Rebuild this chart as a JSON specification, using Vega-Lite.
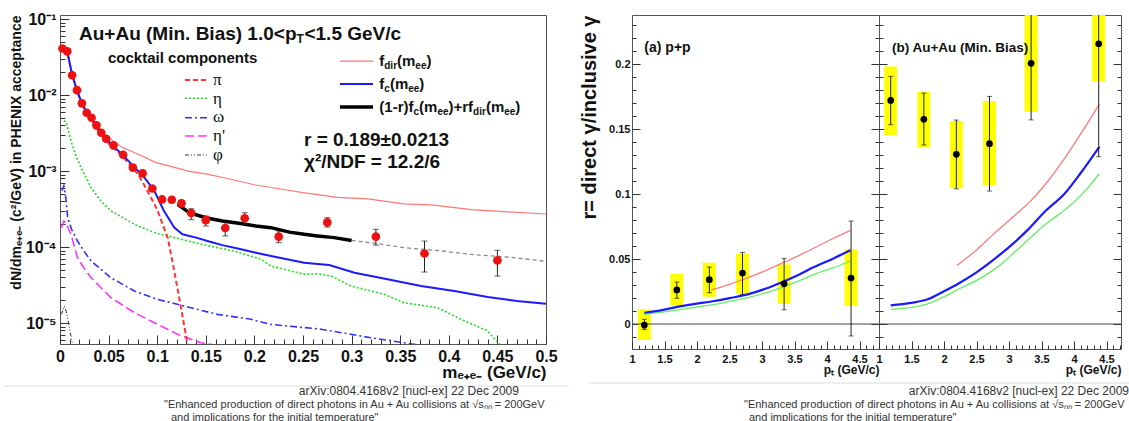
{
  "$schema": "https://vega.github.io/schema/vega-lite/v6.json",
  "background": "white",
  "padding": {"left": 3, "top": 10, "right": 0, "bottom": 0},
  "bounds": "flush",
  "spacing": 86,
  "config": {
    "font": "Liberation Sans",
    "view": {"stroke": "#555555", "strokeWidth": 1},
    "axis": {"grid": false, "domain": false, "labelColor": "#111111", "titleColor": "#111111", "tickColor": "#333333", "tickWidth": 1, "labelFlush": false, "labelOverlap": false},
    "text": {"align": "left", "baseline": "middle", "color": "#111111"}
  },
  "datasets": {
    "curves": [
      {"c": "eta", "m": 0.004, "v": 0.0046}, {"c": "eta", "m": 0.0065, "v": 0.0044}, {"c": "eta", "m": 0.0113, "v": 0.00248}, {"c": "eta", "m": 0.0165, "v": 0.00157}, {"c": "eta", "m": 0.0216, "v": 0.00111}, {"c": "eta", "m": 0.032, "v": 0.000603}, {"c": "eta", "m": 0.042, "v": 0.000403}, {"c": "eta", "m": 0.0525, "v": 0.000298}, {"c": "eta", "m": 0.0645, "v": 0.000245}, {"c": "eta", "m": 0.0765, "v": 0.000199}, {"c": "eta", "m": 0.097, "v": 0.000155}, {"c": "eta", "m": 0.1176, "v": 0.000133}, {"c": "eta", "m": 0.145, "v": 0.000109}, {"c": "eta", "m": 0.179, "v": 0.0000885}, {"c": "eta", "m": 0.207, "v": 0.000069}, {"c": "eta", "m": 0.217, "v": 0.0000562}, {"c": "eta", "m": 0.2513, "v": 0.0000438}, {"c": "eta", "m": 0.265, "v": 0.0000445}, {"c": "eta", "m": 0.279, "v": 0.0000415}, {"c": "eta", "m": 0.2994, "v": 0.0000307}, {"c": "eta", "m": 0.32, "v": 0.0000264}, {"c": "eta", "m": 0.3336, "v": 0.0000239}, {"c": "eta", "m": 0.354, "v": 0.0000185}, {"c": "eta", "m": 0.3886, "v": 0.0000159}, {"c": "eta", "m": 0.4125, "v": 0.0000112}, {"c": "eta", "m": 0.44, "v": 0.00000785}, {"c": "eta", "m": 0.449, "v": 0.0000058}, {"c": "eta", "m": 0.457, "v": 0.0000046},
      {"c": "omega", "m": 0.002, "v": 0.00055}, {"c": "omega", "m": 0.004, "v": 0.00064}, {"c": "omega", "m": 0.006, "v": 0.000445}, {"c": "omega", "m": 0.0079, "v": 0.000243}, {"c": "omega", "m": 0.012, "v": 0.00017}, {"c": "omega", "m": 0.018, "v": 0.00012}, {"c": "omega", "m": 0.025, "v": 0.000087}, {"c": "omega", "m": 0.032, "v": 0.0000655}, {"c": "omega", "m": 0.0525, "v": 0.0000394}, {"c": "omega", "m": 0.0765, "v": 0.0000264}, {"c": "omega", "m": 0.1005, "v": 0.0000205}, {"c": "omega", "m": 0.128, "v": 0.0000167}, {"c": "omega", "m": 0.162, "v": 0.000013}, {"c": "omega", "m": 0.1965, "v": 0.0000112}, {"c": "omega", "m": 0.217, "v": 0.0000096}, {"c": "omega", "m": 0.2685, "v": 0.0000083}, {"c": "omega", "m": 0.32, "v": 0.0000064}, {"c": "omega", "m": 0.354, "v": 0.0000055}, {"c": "omega", "m": 0.375, "v": 0.000005},
      {"c": "etap", "m": 0.0015, "v": 0.00018}, {"c": "etap", "m": 0.004, "v": 0.00022}, {"c": "etap", "m": 0.006, "v": 0.000209}, {"c": "etap", "m": 0.0113, "v": 0.000147}, {"c": "etap", "m": 0.018, "v": 0.0000723}, {"c": "etap", "m": 0.025, "v": 0.000052}, {"c": "etap", "m": 0.032, "v": 0.0000394}, {"c": "etap", "m": 0.0525, "v": 0.0000215}, {"c": "etap", "m": 0.0765, "v": 0.0000137}, {"c": "etap", "m": 0.1005, "v": 0.0000096}, {"c": "etap", "m": 0.121, "v": 0.0000071}, {"c": "etap", "m": 0.145, "v": 0.0000055}, {"c": "etap", "m": 0.165, "v": 0.000005},
      {"c": "phi", "m": 0.0015, "v": 0.000013}, {"c": "phi", "m": 0.0045, "v": 0.0000167}, {"c": "phi", "m": 0.0065, "v": 0.000014}, {"c": "phi", "m": 0.0079, "v": 0.0000117}, {"c": "phi", "m": 0.0105, "v": 0.0000075}, {"c": "phi", "m": 0.013, "v": 0.0000052},
      {"c": "pi", "m": 0.0025, "v": 0.039}, {"c": "pi", "m": 0.0075, "v": 0.037}, {"c": "pi", "m": 0.0125, "v": 0.0185}, {"c": "pi", "m": 0.0175, "v": 0.0112}, {"c": "pi", "m": 0.0225, "v": 0.0076}, {"c": "pi", "m": 0.03, "v": 0.0052}, {"c": "pi", "m": 0.04, "v": 0.0033}, {"c": "pi", "m": 0.05, "v": 0.0023}, {"c": "pi", "m": 0.0645, "v": 0.00155}, {"c": "pi", "m": 0.08, "v": 0.00092}, {"c": "pi", "m": 0.089, "v": 0.00058}, {"c": "pi", "m": 0.1, "v": 0.00031}, {"c": "pi", "m": 0.111, "v": 0.00013}, {"c": "pi", "m": 0.1176, "v": 0.000048}, {"c": "pi", "m": 0.1245, "v": 0.000016}, {"c": "pi", "m": 0.13, "v": 0.0000064}, {"c": "pi", "m": 0.133, "v": 0.000004},
      {"c": "fdir", "m": 0.0025, "v": 0.039}, {"c": "fdir", "m": 0.0075, "v": 0.037}, {"c": "fdir", "m": 0.0125, "v": 0.0185}, {"c": "fdir", "m": 0.0175, "v": 0.0113}, {"c": "fdir", "m": 0.0225, "v": 0.0078}, {"c": "fdir", "m": 0.0275, "v": 0.006}, {"c": "fdir", "m": 0.0353, "v": 0.0044}, {"c": "fdir", "m": 0.0476, "v": 0.0029}, {"c": "fdir", "m": 0.0645, "v": 0.00203}, {"c": "fdir", "m": 0.0765, "v": 0.00175}, {"c": "fdir", "m": 0.0988, "v": 0.00129}, {"c": "fdir", "m": 0.111, "v": 0.00118}, {"c": "fdir", "m": 0.133, "v": 0.00099}, {"c": "fdir", "m": 0.15, "v": 0.00092}, {"c": "fdir", "m": 0.17, "v": 0.00081}, {"c": "fdir", "m": 0.2, "v": 0.00066}, {"c": "fdir", "m": 0.227, "v": 0.00058}, {"c": "fdir", "m": 0.25, "v": 0.00052}, {"c": "fdir", "m": 0.2857, "v": 0.00045}, {"c": "fdir", "m": 0.3166, "v": 0.00043}, {"c": "fdir", "m": 0.354, "v": 0.00037}, {"c": "fdir", "m": 0.385, "v": 0.000355}, {"c": "fdir", "m": 0.423, "v": 0.00031}, {"c": "fdir", "m": 0.46, "v": 0.00029}, {"c": "fdir", "m": 0.5, "v": 0.000272},
      {"c": "fc", "m": 0.0025, "v": 0.038}, {"c": "fc", "m": 0.005, "v": 0.041}, {"c": "fc", "m": 0.0075, "v": 0.037}, {"c": "fc", "m": 0.0125, "v": 0.0185}, {"c": "fc", "m": 0.0175, "v": 0.0115}, {"c": "fc", "m": 0.0225, "v": 0.0078}, {"c": "fc", "m": 0.0275, "v": 0.0059}, {"c": "fc", "m": 0.0325, "v": 0.0049}, {"c": "fc", "m": 0.0375, "v": 0.004}, {"c": "fc", "m": 0.0425, "v": 0.0032}, {"c": "fc", "m": 0.0475, "v": 0.0027}, {"c": "fc", "m": 0.055, "v": 0.0021}, {"c": "fc", "m": 0.065, "v": 0.00162}, {"c": "fc", "m": 0.075, "v": 0.00117}, {"c": "fc", "m": 0.085, "v": 0.00088}, {"c": "fc", "m": 0.097, "v": 0.00055}, {"c": "fc", "m": 0.107, "v": 0.000298}, {"c": "fc", "m": 0.1176, "v": 0.00018}, {"c": "fc", "m": 0.126, "v": 0.000147}, {"c": "fc", "m": 0.14, "v": 0.000133}, {"c": "fc", "m": 0.1536, "v": 0.000118}, {"c": "fc", "m": 0.167, "v": 0.000106}, {"c": "fc", "m": 0.184, "v": 0.000095}, {"c": "fc", "m": 0.2016, "v": 0.000084}, {"c": "fc", "m": 0.217, "v": 0.000076}, {"c": "fc", "m": 0.2513, "v": 0.000062}, {"c": "fc", "m": 0.265, "v": 0.00006}, {"c": "fc", "m": 0.277, "v": 0.000058}, {"c": "fc", "m": 0.303, "v": 0.000046}, {"c": "fc", "m": 0.337, "v": 0.0000376}, {"c": "fc", "m": 0.3714, "v": 0.0000307}, {"c": "fc", "m": 0.4057, "v": 0.0000264}, {"c": "fc", "m": 0.44, "v": 0.000022}, {"c": "fc", "m": 0.47, "v": 0.0000195}, {"c": "fc", "m": 0.5, "v": 0.000018},
      {"c": "fitext", "m": 0.3, "v": 0.000122}, {"c": "fitext", "m": 0.32, "v": 0.000114}, {"c": "fitext", "m": 0.354, "v": 0.000098}, {"c": "fitext", "m": 0.3886, "v": 0.00009}, {"c": "fitext", "m": 0.423, "v": 0.00008}, {"c": "fitext", "m": 0.46, "v": 0.000074}, {"c": "fitext", "m": 0.5, "v": 0.000065},
      {"c": "fit", "m": 0.121, "v": 0.000364}, {"c": "fit", "m": 0.133, "v": 0.000283}, {"c": "fit", "m": 0.15, "v": 0.000243}, {"c": "fit", "m": 0.167, "v": 0.00022}, {"c": "fit", "m": 0.184, "v": 0.000205}, {"c": "fit", "m": 0.2016, "v": 0.000189}, {"c": "fit", "m": 0.217, "v": 0.00018}, {"c": "fit", "m": 0.236, "v": 0.000157}, {"c": "fit", "m": 0.2513, "v": 0.000147}, {"c": "fit", "m": 0.265, "v": 0.00014}, {"c": "fit", "m": 0.282, "v": 0.000133}, {"c": "fit", "m": 0.3, "v": 0.000122}
    ],
    "pts": [
      {"m": 0.0025, "v": 0.041}, {"m": 0.0075, "v": 0.0376}, {"m": 0.0125, "v": 0.0182}, {"m": 0.0175, "v": 0.0116}, {"m": 0.0225, "v": 0.00778}, {"m": 0.0275, "v": 0.00585}, {"m": 0.0325, "v": 0.00503}, {"m": 0.0375, "v": 0.00399}, {"m": 0.0425, "v": 0.00319}, {"m": 0.0475, "v": 0.00266}, {"m": 0.055, "v": 0.00218}, {"m": 0.065, "v": 0.00164}, {"m": 0.075, "v": 0.00111}, {"m": 0.085, "v": 0.00093}, {"m": 0.095, "v": 0.00059}, {"m": 0.105, "v": 0.000423}, {"m": 0.115, "v": 0.000419}, {"m": 0.125, "v": 0.000376}, {"m": 0.135, "v": 0.00028}, {"m": 0.15, "v": 0.000226}, {"m": 0.17, "v": 0.000178}, {"m": 0.19, "v": 0.000239}, {"m": 0.225, "v": 0.000137}, {"m": 0.275, "v": 0.000211}, {"m": 0.325, "v": 0.000137}, {"m": 0.375, "v": 0.0000822}, {"m": 0.45, "v": 0.0000668}
    ],
    "errs": [
      {"m": 0.115, "lo": 0.000383, "hi": 0.000455}, {"m": 0.125, "lo": 0.000339, "hi": 0.000411}, {"m": 0.135, "lo": 0.000229, "hi": 0.000319}, {"m": 0.15, "lo": 0.000189, "hi": 0.000256}, {"m": 0.17, "lo": 0.00014, "hi": 0.000213}, {"m": 0.19, "lo": 0.000199, "hi": 0.000283}, {"m": 0.225, "lo": 0.000114, "hi": 0.000163}, {"m": 0.275, "lo": 0.000183, "hi": 0.000243}, {"m": 0.325, "lo": 0.000106, "hi": 0.000171}, {"m": 0.375, "lo": 0.0000469, "hi": 0.00012}, {"m": 0.45, "lo": 0.0000415, "hi": 0.0000906}
    ],
    "pp": [
      {"pt": 1.19, "r": -0.0008, "elo": -0.0041, "ehi": 0.0036, "slo": -0.0123, "shi": 0.0113},
      {"pt": 1.69, "r": 0.0262, "elo": 0.0198, "ehi": 0.0323, "slo": 0.0138, "shi": 0.0387},
      {"pt": 2.19, "r": 0.0341, "elo": 0.0241, "ehi": 0.0438, "slo": 0.021, "shi": 0.0472},
      {"pt": 2.7, "r": 0.0392, "elo": 0.0228, "ehi": 0.0551, "slo": 0.0236, "shi": 0.0541},
      {"pt": 3.34, "r": 0.031, "elo": 0.011, "ehi": 0.0505, "slo": 0.0156, "shi": 0.0459},
      {"pt": 4.37, "r": 0.0354, "elo": -0.0092, "ehi": 0.0792, "slo": 0.0138, "shi": 0.0575}
    ],
    "au": [
      {"pt": 1.18, "r": 0.172, "elo": 0.1533, "ehi": 0.1905, "slo": 0.1454, "shi": 0.198},
      {"pt": 1.69, "r": 0.1575, "elo": 0.1377, "ehi": 0.1777, "slo": 0.1356, "shi": 0.1785},
      {"pt": 2.19, "r": 0.1305, "elo": 0.104, "ehi": 0.1569, "slo": 0.1044, "shi": 0.1562},
      {"pt": 2.7, "r": 0.1387, "elo": 0.1023, "ehi": 0.1751, "slo": 0.1067, "shi": 0.1715},
      {"pt": 3.34, "r": 0.2005, "elo": 0.157, "ehi": 0.27, "slo": 0.1633, "shi": 0.26},
      {"pt": 4.38, "r": 0.2156, "elo": 0.1287, "ehi": 0.28, "slo": 0.1864, "shi": 0.27}
    ],
    "ppl": [
      {"c": "red", "pt": 2.22, "r": 0.0262}, {"c": "red", "pt": 2.5, "r": 0.0305}, {"c": "red", "pt": 2.78, "r": 0.0356}, {"c": "red", "pt": 3.05, "r": 0.041}, {"c": "red", "pt": 3.29, "r": 0.0464}, {"c": "red", "pt": 3.55, "r": 0.0523}, {"c": "red", "pt": 3.81, "r": 0.0587}, {"c": "red", "pt": 4.1, "r": 0.066}, {"c": "red", "pt": 4.36, "r": 0.0721},
      {"c": "blue", "pt": 1.19, "r": 0.0087}, {"c": "blue", "pt": 1.5, "r": 0.0111}, {"c": "blue", "pt": 1.755, "r": 0.0138}, {"c": "blue", "pt": 2.0, "r": 0.0157}, {"c": "blue", "pt": 2.27, "r": 0.0177}, {"c": "blue", "pt": 2.5, "r": 0.0199}, {"c": "blue", "pt": 2.78, "r": 0.0228}, {"c": "blue", "pt": 3.05, "r": 0.0271}, {"c": "blue", "pt": 3.29, "r": 0.0318}, {"c": "blue", "pt": 3.55, "r": 0.0375}, {"c": "blue", "pt": 3.8, "r": 0.0438}, {"c": "blue", "pt": 4.1, "r": 0.0505}, {"c": "blue", "pt": 4.36, "r": 0.0567},
      {"c": "green", "pt": 1.19, "r": 0.0074}, {"c": "green", "pt": 1.5, "r": 0.0093}, {"c": "green", "pt": 1.755, "r": 0.0113}, {"c": "green", "pt": 2.0, "r": 0.0131}, {"c": "green", "pt": 2.27, "r": 0.0151}, {"c": "green", "pt": 2.5, "r": 0.0174}, {"c": "green", "pt": 2.78, "r": 0.0203}, {"c": "green", "pt": 3.05, "r": 0.0239}, {"c": "green", "pt": 3.29, "r": 0.0279}, {"c": "green", "pt": 3.55, "r": 0.0328}, {"c": "green", "pt": 3.8, "r": 0.0382}, {"c": "green", "pt": 4.1, "r": 0.0434}, {"c": "green", "pt": 4.36, "r": 0.0485}
    ],
    "aul": [
      {"c": "red", "pt": 2.2, "r": 0.0451}, {"c": "red", "pt": 2.5, "r": 0.057}, {"c": "red", "pt": 2.79, "r": 0.0705}, {"c": "red", "pt": 3.1, "r": 0.084}, {"c": "red", "pt": 3.35, "r": 0.0955}, {"c": "red", "pt": 3.6, "r": 0.11}, {"c": "red", "pt": 3.85, "r": 0.127}, {"c": "red", "pt": 4.1, "r": 0.146}, {"c": "red", "pt": 4.39, "r": 0.169},
      {"c": "blue", "pt": 1.18, "r": 0.0144}, {"c": "blue", "pt": 1.5, "r": 0.0163}, {"c": "blue", "pt": 1.75, "r": 0.019}, {"c": "blue", "pt": 2.0, "r": 0.0252}, {"c": "blue", "pt": 2.25, "r": 0.032}, {"c": "blue", "pt": 2.5, "r": 0.0398}, {"c": "blue", "pt": 2.75, "r": 0.049}, {"c": "blue", "pt": 3.05, "r": 0.0613}, {"c": "blue", "pt": 3.3, "r": 0.073}, {"c": "blue", "pt": 3.56, "r": 0.0869}, {"c": "blue", "pt": 3.85, "r": 0.1}, {"c": "blue", "pt": 4.1, "r": 0.116}, {"c": "blue", "pt": 4.39, "r": 0.1364},
      {"c": "green", "pt": 1.18, "r": 0.0113}, {"c": "green", "pt": 1.5, "r": 0.0128}, {"c": "green", "pt": 1.75, "r": 0.0155}, {"c": "green", "pt": 2.02, "r": 0.0215}, {"c": "green", "pt": 2.25, "r": 0.0275}, {"c": "green", "pt": 2.53, "r": 0.0344}, {"c": "green", "pt": 2.8, "r": 0.043}, {"c": "green", "pt": 3.05, "r": 0.0536}, {"c": "green", "pt": 3.3, "r": 0.065}, {"c": "green", "pt": 3.56, "r": 0.0767}, {"c": "green", "pt": 3.8, "r": 0.0855}, {"c": "green", "pt": 4.02, "r": 0.0946}, {"c": "green", "pt": 4.2, "r": 0.104}, {"c": "green", "pt": 4.39, "r": 0.1156}
    ]
  },
  "hconcat": [
    {
      "width": 486,
      "height": 329,
      "data": {"values": [{}]},
      "resolve": {"axis": {"x": "independent", "y": "independent"}},
      "layer": [
        {
          "data": {"name": "curves"},
          "transform": [{"filter": "datum.c == 'eta'"}],
          "mark": {"type": "line", "color": "#22dd22", "strokeWidth": 1.6, "strokeDash": [2, 2], "clip": true},
          "encoding": {
            "x": {"field": "m", "type": "quantitative", "scale": {"domain": [0, 0.5], "nice": false, "zero": false, "padding": 0},
              "axis": {"orient": "bottom", "values": [0, 0.05, 0.1, 0.15, 0.2, 0.25, 0.3, 0.35, 0.4, 0.45, 0.5], "format": "~g", "ticks": false, "tickSize": 0, "labelFontSize": 16, "labelFontWeight": "bold", "labelPadding": 4, "title": "mₑ₊ₑ₋ (GeV/c)", "titleAnchor": "end", "titleFontSize": 17, "titleFontWeight": "bold", "titlePadding": 0}},
            "y": {"field": "v", "type": "quantitative", "scale": {"type": "log", "domain": [0.0000053, 0.113], "nice": false},
              "axis": {"orient": "left", "values": [0.00001, 0.0001, 0.001, 0.01, 0.1], "labelExpr": "datum.value > 0.05 ? '10⁻¹' : datum.value > 0.005 ? '10⁻²' : datum.value > 0.0005 ? '10⁻³' : datum.value > 0.00005 ? '10⁻⁴' : '10⁻⁵'", "ticks": false, "tickSize": 0, "labelFontSize": 16, "labelFontWeight": "bold", "labelPadding": 4, "title": "dN/dmₑ₊ₑ₋ (c²/GeV) in PHENIX acceptance", "titleAnchor": "end", "titleFontSize": 14, "titleFontWeight": "bold", "titlePadding": 2}}
          }
        },
        {
          "data": {"name": "curves"},
          "transform": [{"filter": "datum.c == 'omega'"}],
          "mark": {"type": "line", "color": "#3333ff", "strokeWidth": 1.6, "strokeDash": [7, 3, 2, 3], "clip": true},
          "encoding": {"x": {"field": "m", "type": "quantitative", "axis": null}, "y": {"field": "v", "type": "quantitative", "axis": null}}
        },
        {
          "data": {"name": "curves"},
          "transform": [{"filter": "datum.c == 'etap'"}],
          "mark": {"type": "line", "color": "#ff33ff", "strokeWidth": 1.6, "strokeDash": [9, 4], "clip": true},
          "encoding": {"x": {"field": "m", "type": "quantitative", "axis": null}, "y": {"field": "v", "type": "quantitative", "axis": null}}
        },
        {
          "data": {"name": "curves"},
          "transform": [{"filter": "datum.c == 'phi'"}],
          "mark": {"type": "line", "color": "#333333", "strokeWidth": 1, "strokeDash": [4, 2, 1, 2, 1, 2], "clip": true},
          "encoding": {"x": {"field": "m", "type": "quantitative", "axis": null}, "y": {"field": "v", "type": "quantitative", "axis": null}}
        },
        {
          "data": {"name": "curves"},
          "transform": [{"filter": "datum.c == 'pi'"}],
          "mark": {"type": "line", "color": "#ff3333", "strokeWidth": 2, "strokeDash": [5, 3], "clip": true},
          "encoding": {"x": {"field": "m", "type": "quantitative", "axis": null}, "y": {"field": "v", "type": "quantitative", "axis": null}}
        },
        {
          "data": {"name": "curves"},
          "transform": [{"filter": "datum.c == 'fdir'"}],
          "mark": {"type": "line", "color": "#ff7777", "strokeWidth": 1.2, "clip": true},
          "encoding": {"x": {"field": "m", "type": "quantitative", "axis": null}, "y": {"field": "v", "type": "quantitative", "axis": null}}
        },
        {
          "data": {"name": "curves"},
          "transform": [{"filter": "datum.c == 'fc'"}],
          "mark": {"type": "line", "color": "#1a1aff", "strokeWidth": 2, "clip": true},
          "encoding": {"x": {"field": "m", "type": "quantitative", "axis": null}, "y": {"field": "v", "type": "quantitative", "axis": null}}
        },
        {
          "data": {"name": "curves"},
          "transform": [{"filter": "datum.c == 'fitext'"}],
          "mark": {"type": "line", "color": "#888888", "strokeWidth": 1.3, "strokeDash": [4, 3], "clip": true},
          "encoding": {"x": {"field": "m", "type": "quantitative", "axis": null}, "y": {"field": "v", "type": "quantitative", "axis": null}}
        },
        {
          "data": {"name": "curves"},
          "transform": [{"filter": "datum.c == 'fit'"}],
          "mark": {"type": "line", "color": "#000000", "strokeWidth": 3.5, "clip": true},
          "encoding": {"x": {"field": "m", "type": "quantitative", "axis": null}, "y": {"field": "v", "type": "quantitative", "axis": null}}
        },
        {
          "data": {"name": "errs"},
          "mark": {"type": "rule", "color": "#222222", "strokeWidth": 1},
          "encoding": {
            "x": {"field": "m", "type": "quantitative", "axis": {"orient": "bottom", "values": [0.01, 0.02, 0.03, 0.04, 0.06, 0.07, 0.08, 0.09, 0.11, 0.12, 0.13, 0.14, 0.16, 0.17, 0.18, 0.19, 0.21, 0.22, 0.23, 0.24, 0.26, 0.27, 0.28, 0.29, 0.31, 0.32, 0.33, 0.34, 0.36, 0.37, 0.38, 0.39, 0.41, 0.42, 0.43, 0.44, 0.46, 0.47, 0.48, 0.49], "labels": false, "ticks": true, "tickSize": -5, "title": null}},
            "y": {"field": "lo", "type": "quantitative", "axis": {"orient": "left", "values": [0.000006, 0.000007, 0.000008, 0.000009, 0.00002, 0.00003, 0.00004, 0.00005, 0.00006, 0.00007, 0.00008, 0.00009, 0.0002, 0.0003, 0.0004, 0.0005, 0.0006, 0.0007, 0.0008, 0.0009, 0.002, 0.003, 0.004, 0.005, 0.006, 0.007, 0.008, 0.009, 0.02, 0.03, 0.04, 0.05, 0.06, 0.07, 0.08, 0.09], "labels": false, "ticks": true, "tickSize": -5, "title": null}},
            "y2": {"field": "hi"}
          }
        },
        {
          "data": {"name": "errs"},
          "transform": [{"fold": ["lo", "hi"], "as": ["k", "e"]}],
          "mark": {"type": "tick", "orient": "horizontal", "size": 6, "thickness": 1, "color": "#222222"},
          "encoding": {"x": {"field": "m", "type": "quantitative", "axis": null}, "y": {"field": "e", "type": "quantitative", "axis": null}}
        },
        {
          "data": {"name": "pts"},
          "mark": {"type": "circle", "color": "#ee1111", "size": 75, "opacity": 1},
          "encoding": {
            "x": {"field": "m", "type": "quantitative", "axis": {"orient": "bottom", "values": [0, 0.05, 0.1, 0.15, 0.2, 0.25, 0.3, 0.35, 0.4, 0.45, 0.5], "labels": false, "ticks": true, "tickSize": -9, "title": null}},
            "y": {"field": "v", "type": "quantitative", "axis": {"orient": "left", "values": [0.00001, 0.0001, 0.001, 0.01, 0.1], "labels": false, "ticks": true, "tickSize": -9, "title": null}}
          }
        },
        {"mark": {"type": "rule", "color": "#ff3333", "strokeWidth": 2, "strokeDash": [5, 3]}, "encoding": {"x": {"datum": 0.1286, "type": "quantitative", "axis": null}, "x2": {"datum": 0.1512}, "y": {"datum": 0.01574, "type": "quantitative", "axis": null}}},
        {"mark": {"type": "rule", "color": "#22dd22", "strokeWidth": 1.6, "strokeDash": [2, 2]}, "encoding": {"x": {"datum": 0.1286, "type": "quantitative", "axis": null}, "x2": {"datum": 0.1512}, "y": {"datum": 0.00906, "type": "quantitative", "axis": null}}},
        {"mark": {"type": "rule", "color": "#3333ff", "strokeWidth": 1.6, "strokeDash": [7, 3, 2, 3]}, "encoding": {"x": {"datum": 0.1286, "type": "quantitative", "axis": null}, "x2": {"datum": 0.1512}, "y": {"datum": 0.00503, "type": "quantitative", "axis": null}}},
        {"mark": {"type": "rule", "color": "#ff33ff", "strokeWidth": 1.6, "strokeDash": [9, 4]}, "encoding": {"x": {"datum": 0.1286, "type": "quantitative", "axis": null}, "x2": {"datum": 0.1512}, "y": {"datum": 0.00289, "type": "quantitative", "axis": null}}},
        {"mark": {"type": "rule", "color": "#333333", "strokeWidth": 1, "strokeDash": [4, 2, 1, 2, 1, 2]}, "encoding": {"x": {"datum": 0.1286, "type": "quantitative", "axis": null}, "x2": {"datum": 0.1512}, "y": {"datum": 0.001625, "type": "quantitative", "axis": null}}},
        {"mark": {"type": "text", "font": "Liberation Serif", "fontSize": 17, "lineBreak": "\n", "lineHeight": 18.7, "text": "π\nη\nω\nη'\nφ"}, "encoding": {"x": {"datum": 0.1574, "type": "quantitative", "axis": null}, "y": {"datum": 0.01574, "type": "quantitative", "axis": null}}},
        {"mark": {"type": "text", "fontSize": 15, "fontWeight": "bold", "text": "cocktail components"}, "encoding": {"x": {"datum": 0.0494, "type": "quantitative", "axis": null}, "y": {"datum": 0.03097, "type": "quantitative", "axis": null}}},
        {"mark": {"type": "rule", "color": "#ff7777", "strokeWidth": 1.2}, "encoding": {"x": {"datum": 0.288, "type": "quantitative", "axis": null}, "x2": {"datum": 0.322}, "y": {"datum": 0.028, "type": "quantitative", "axis": null}}},
        {"mark": {"type": "rule", "color": "#1a1aff", "strokeWidth": 2}, "encoding": {"x": {"datum": 0.288, "type": "quantitative", "axis": null}, "x2": {"datum": 0.322}, "y": {"datum": 0.01395, "type": "quantitative", "axis": null}}},
        {"mark": {"type": "rule", "color": "#000000", "strokeWidth": 3.5}, "encoding": {"x": {"datum": 0.288, "type": "quantitative", "axis": null}, "x2": {"datum": 0.322}, "y": {"datum": 0.00695, "type": "quantitative", "axis": null}}},
        {"mark": {"type": "text", "fontSize": 15, "fontWeight": "bold", "text": "f"}, "encoding": {"x": {"datum": 0.3285, "type": "quantitative", "axis": null}, "y": {"datum": 0.028, "type": "quantitative", "axis": null}}},
        {"mark": {"type": "text", "fontSize": 10, "fontWeight": "bold", "text": "dir"}, "encoding": {"x": {"datum": 0.3336, "type": "quantitative", "axis": null}, "y": {"datum": 0.02443, "type": "quantitative", "axis": null}}},
        {"mark": {"type": "text", "fontSize": 15, "fontWeight": "bold", "text": "(m"}, "encoding": {"x": {"datum": 0.3468, "type": "quantitative", "axis": null}, "y": {"datum": 0.028, "type": "quantitative", "axis": null}}},
        {"mark": {"type": "text", "fontSize": 10, "fontWeight": "bold", "text": "ee"}, "encoding": {"x": {"datum": 0.3656, "type": "quantitative", "axis": null}, "y": {"datum": 0.02443, "type": "quantitative", "axis": null}}},
        {"mark": {"type": "text", "fontSize": 15, "fontWeight": "bold", "text": ")"}, "encoding": {"x": {"datum": 0.3771, "type": "quantitative", "axis": null}, "y": {"datum": 0.028, "type": "quantitative", "axis": null}}},
        {"mark": {"type": "text", "fontSize": 15, "fontWeight": "bold", "text": "f"}, "encoding": {"x": {"datum": 0.3285, "type": "quantitative", "axis": null}, "y": {"datum": 0.01395, "type": "quantitative", "axis": null}}},
        {"mark": {"type": "text", "fontSize": 10, "fontWeight": "bold", "text": "c"}, "encoding": {"x": {"datum": 0.3336, "type": "quantitative", "axis": null}, "y": {"datum": 0.01218, "type": "quantitative", "axis": null}}},
        {"mark": {"type": "text", "fontSize": 15, "fontWeight": "bold", "text": "(m"}, "encoding": {"x": {"datum": 0.3394, "type": "quantitative", "axis": null}, "y": {"datum": 0.01395, "type": "quantitative", "axis": null}}},
        {"mark": {"type": "text", "fontSize": 10, "fontWeight": "bold", "text": "ee"}, "encoding": {"x": {"datum": 0.3582, "type": "quantitative", "axis": null}, "y": {"datum": 0.01218, "type": "quantitative", "axis": null}}},
        {"mark": {"type": "text", "fontSize": 15, "fontWeight": "bold", "text": ")"}, "encoding": {"x": {"datum": 0.3697, "type": "quantitative", "axis": null}, "y": {"datum": 0.01395, "type": "quantitative", "axis": null}}},
        {"mark": {"type": "text", "fontSize": 15, "fontWeight": "bold", "text": "(1-r)f"}, "encoding": {"x": {"datum": 0.3285, "type": "quantitative", "axis": null}, "y": {"datum": 0.00695, "type": "quantitative", "axis": null}}},
        {"mark": {"type": "text", "fontSize": 10, "fontWeight": "bold", "text": "c"}, "encoding": {"x": {"datum": 0.3637, "type": "quantitative", "axis": null}, "y": {"datum": 0.00607, "type": "quantitative", "axis": null}}},
        {"mark": {"type": "text", "fontSize": 15, "fontWeight": "bold", "text": "(m"}, "encoding": {"x": {"datum": 0.3694, "type": "quantitative", "axis": null}, "y": {"datum": 0.00695, "type": "quantitative", "axis": null}}},
        {"mark": {"type": "text", "fontSize": 10, "fontWeight": "bold", "text": "ee"}, "encoding": {"x": {"datum": 0.3883, "type": "quantitative", "axis": null}, "y": {"datum": 0.00607, "type": "quantitative", "axis": null}}},
        {"mark": {"type": "text", "fontSize": 15, "fontWeight": "bold", "text": ")+rf"}, "encoding": {"x": {"datum": 0.3997, "type": "quantitative", "axis": null}, "y": {"datum": 0.00695, "type": "quantitative", "axis": null}}},
        {"mark": {"type": "text", "fontSize": 10, "fontWeight": "bold", "text": "dir"}, "encoding": {"x": {"datum": 0.425, "type": "quantitative", "axis": null}, "y": {"datum": 0.00607, "type": "quantitative", "axis": null}}},
        {"mark": {"type": "text", "fontSize": 15, "fontWeight": "bold", "text": "(m"}, "encoding": {"x": {"datum": 0.4382, "type": "quantitative", "axis": null}, "y": {"datum": 0.00695, "type": "quantitative", "axis": null}}},
        {"mark": {"type": "text", "fontSize": 10, "fontWeight": "bold", "text": "ee"}, "encoding": {"x": {"datum": 0.457, "type": "quantitative", "axis": null}, "y": {"datum": 0.00607, "type": "quantitative", "axis": null}}},
        {"mark": {"type": "text", "fontSize": 15, "fontWeight": "bold", "text": ")"}, "encoding": {"x": {"datum": 0.4684, "type": "quantitative", "axis": null}, "y": {"datum": 0.00695, "type": "quantitative", "axis": null}}},
        {"mark": {"type": "text", "fontSize": 19, "fontWeight": "bold", "text": "Au+Au (Min. Bias) 1.0<p"}, "encoding": {"x": {"datum": 0.01955, "type": "quantitative", "axis": null}, "y": {"datum": 0.0635, "type": "quantitative", "axis": null}}},
        {"mark": {"type": "text", "fontSize": 12, "fontWeight": "bold", "text": "T"}, "encoding": {"x": {"datum": 0.2433, "type": "quantitative", "axis": null}, "y": {"datum": 0.0546, "type": "quantitative", "axis": null}}},
        {"mark": {"type": "text", "fontSize": 19, "fontWeight": "bold", "text": "<1.5 GeV/c"}, "encoding": {"x": {"datum": 0.2515, "type": "quantitative", "axis": null}, "y": {"datum": 0.0635, "type": "quantitative", "axis": null}}},
        {"mark": {"type": "text", "fontSize": 19, "fontWeight": "bold", "text": "r = 0.189±0.0213"}, "encoding": {"x": {"datum": 0.251, "type": "quantitative", "axis": null}, "y": {"datum": 0.002535, "type": "quantitative", "axis": null}}},
        {"mark": {"type": "text", "fontSize": 19, "fontWeight": "bold", "text": "χ²/NDF = 12.2/6"}, "encoding": {"x": {"datum": 0.251, "type": "quantitative", "axis": null}, "y": {"datum": 0.001312, "type": "quantitative", "axis": null}}},
        {"mark": {"type": "rule", "color": "#dddddd", "strokeWidth": 1}, "encoding": {"x": {"datum": -0.0576, "type": "quantitative", "axis": null}, "x2": {"datum": 0.5237}, "y": {"datum": 0.000001483, "type": "quantitative", "axis": null}}},
        {"mark": {"type": "text", "align": "right", "fontSize": 12, "color": "#333333", "text": "arXiv:0804.4168v2 [nucl-ex] 22 Dec 2009"}, "encoding": {"x": {"datum": 0.4722, "type": "quantitative", "axis": null}, "y": {"datum": 0.00000127, "type": "quantitative", "axis": null}}},
        {"mark": {"type": "text", "fontSize": 11, "color": "#333333", "text": "\"Enhanced production of direct photons in Au + Au collisions at √sₙₙ = 200GeV"}, "encoding": {"x": {"datum": 0.107, "type": "quantitative", "axis": null}, "y": {"datum": 0.000000834, "type": "quantitative", "axis": null}}},
        {"mark": {"type": "text", "fontSize": 11, "color": "#333333", "text": "and implications for the initial temperature\""}, "encoding": {"x": {"datum": 0.1142, "type": "quantitative", "axis": null}, "y": {"datum": 0.000000562, "type": "quantitative", "axis": null}}}
      ]
    },
    {
      "hconcat": [
        {
          "width": 247,
          "height": 334,
          "data": {"values": [{}]},
          "resolve": {"axis": {"x": "independent", "y": "independent"}},
          "layer": [
            {
              "data": {"name": "pp"},
              "mark": {"type": "bar", "color": "#ffff00", "width": 13},
              "encoding": {
                "x": {"field": "pt", "type": "quantitative", "scale": {"domain": [1, 4.8], "nice": false, "zero": false, "padding": 0},
                  "axis": {"orient": "bottom", "values": [1, 1.5, 2, 2.5, 3, 3.5, 4, 4.5], "format": "~g", "ticks": false, "tickSize": 0, "labelFontSize": 11, "labelFontWeight": "bold", "labelPadding": 4, "title": "pₜ (GeV/c)", "titleAnchor": "end", "titleFontSize": 12, "titleFontWeight": "bold", "titlePadding": 0}},
                "y": {"field": "slo", "type": "quantitative", "scale": {"domain": [-0.0192, 0.2377], "nice": false, "zero": false, "padding": 0},
                  "axis": {"orient": "left", "values": [0, 0.05, 0.1, 0.15, 0.2], "format": "~g", "ticks": false, "tickSize": 0, "labelFontSize": 11, "labelFontWeight": "bold", "labelPadding": 2, "title": "r= direct γ/inclusive γ", "titleAnchor": "end", "titleFontSize": 20, "titleFontWeight": "bold", "titlePadding": 9}},
                "y2": {"field": "shi"}
              }
            },
            {
              "mark": {"type": "rule", "color": "#444444", "strokeWidth": 1},
              "encoding": {"y": {"datum": 0, "type": "quantitative", "axis": {"orient": "right", "values": [-0.01, 0.01, 0.02, 0.03, 0.04, 0.06, 0.07, 0.08, 0.09, 0.11, 0.12, 0.13, 0.14, 0.16, 0.17, 0.18, 0.19, 0.21, 0.22, 0.23], "labels": false, "ticks": true, "tickSize": -4, "title": null}}}
            },
            {
              "data": {"name": "ppl"},
              "transform": [{"filter": "datum.c == 'red'"}],
              "mark": {"type": "line", "color": "#ff7b7b", "strokeWidth": 1.3, "interpolate": "monotone"},
              "encoding": {"x": {"field": "pt", "type": "quantitative", "axis": null}, "y": {"field": "r", "type": "quantitative", "axis": {"orient": "right", "values": [0, 0.05, 0.1, 0.15, 0.2], "labels": false, "ticks": true, "tickSize": -8, "title": null}}}
            },
            {
              "data": {"name": "ppl"},
              "transform": [{"filter": "datum.c == 'green'"}],
              "mark": {"type": "line", "color": "#66ee66", "strokeWidth": 1.3, "interpolate": "monotone"},
              "encoding": {"x": {"field": "pt", "type": "quantitative", "axis": null}, "y": {"field": "r", "type": "quantitative", "axis": null}}
            },
            {
              "data": {"name": "ppl"},
              "transform": [{"filter": "datum.c == 'blue'"}],
              "mark": {"type": "line", "color": "#1a1aff", "strokeWidth": 2.2, "interpolate": "monotone"},
              "encoding": {"x": {"field": "pt", "type": "quantitative", "axis": null}, "y": {"field": "r", "type": "quantitative", "axis": null}}
            },
            {
              "data": {"name": "pp"},
              "mark": {"type": "rule", "color": "#222222", "strokeWidth": 1},
              "encoding": {
                "x": {"field": "pt", "type": "quantitative", "axis": {"orient": "bottom", "values": [1, 1.5, 2, 2.5, 3, 3.5, 4, 4.5], "labels": false, "ticks": true, "tickSize": -8, "title": null}},
                "y": {"field": "elo", "type": "quantitative", "axis": {"orient": "left", "values": [0, 0.05, 0.1, 0.15, 0.2], "labels": false, "ticks": true, "tickSize": -8, "title": null}},
                "y2": {"field": "ehi"}
              }
            },
            {
              "data": {"name": "pp"},
              "transform": [{"fold": ["elo", "ehi"], "as": ["k", "e"]}],
              "mark": {"type": "tick", "orient": "horizontal", "size": 5, "thickness": 1, "color": "#222222"},
              "encoding": {"x": {"field": "pt", "type": "quantitative", "axis": null}, "y": {"field": "e", "type": "quantitative", "axis": null}}
            },
            {
              "data": {"name": "pp"},
              "mark": {"type": "circle", "color": "#000000", "size": 45, "opacity": 1},
              "encoding": {
                "x": {"field": "pt", "type": "quantitative", "axis": {"orient": "bottom", "values": [1.1, 1.2, 1.3, 1.4, 1.6, 1.7, 1.8, 1.9, 2.1, 2.2, 2.3, 2.4, 2.6, 2.7, 2.8, 2.9, 3.1, 3.2, 3.3, 3.4, 3.6, 3.7, 3.8, 3.9, 4.1, 4.2, 4.3, 4.4, 4.6, 4.7], "labels": false, "ticks": true, "tickSize": -4, "title": null}},
                "y": {"field": "r", "type": "quantitative", "axis": {"orient": "left", "values": [-0.01, 0.01, 0.02, 0.03, 0.04, 0.06, 0.07, 0.08, 0.09, 0.11, 0.12, 0.13, 0.14, 0.16, 0.17, 0.18, 0.19, 0.21, 0.22, 0.23], "labels": false, "ticks": true, "tickSize": -4, "title": null}}
              }
            },
            {"mark": {"type": "text", "fontSize": 14, "fontWeight": "bold", "text": "(a) p+p"}, "encoding": {"x": {"datum": 1.19, "type": "quantitative", "axis": null}, "y": {"datum": 0.2123, "type": "quantitative", "axis": null}}},
            {"mark": {"type": "rule", "color": "#dddddd", "strokeWidth": 1}, "encoding": {"x": {"datum": 0.338, "type": "quantitative", "axis": null}, "x2": {"datum": 8.66}, "y": {"datum": -0.0454, "type": "quantitative", "axis": null}}},
            {"mark": {"type": "text", "align": "right", "fontSize": 12, "color": "#333333", "text": "arXiv:0804.4168v2 [nucl-ex] 22 Dec 2009"}, "encoding": {"x": {"datum": 8.646, "type": "quantitative", "axis": null}, "y": {"datum": -0.0515, "type": "quantitative", "axis": null}}},
            {"mark": {"type": "text", "fontSize": 11, "color": "#333333", "text": "\"Enhanced production of direct photons in Au + Au collisions at √sₙₙ = 200GeV"}, "encoding": {"x": {"datum": 2.723, "type": "quantitative", "axis": null}, "y": {"datum": -0.0623, "type": "quantitative", "axis": null}}},
            {"mark": {"type": "text", "fontSize": 11, "color": "#333333", "text": "and implications for the initial temperature\""}, "encoding": {"x": {"datum": 2.8, "type": "quantitative", "axis": null}, "y": {"datum": -0.0723, "type": "quantitative", "axis": null}}}
          ]
        },
        {
          "width": 242,
          "height": 334,
          "data": {"values": [{}]},
          "resolve": {"axis": {"x": "independent", "y": "independent"}},
          "layer": [
            {
              "data": {"name": "au"},
              "mark": {"type": "bar", "color": "#ffff00", "width": 13, "clip": true},
              "encoding": {
                "x": {"field": "pt", "type": "quantitative", "scale": {"domain": [1, 4.723], "nice": false, "zero": false, "padding": 0},
                  "axis": {"orient": "bottom", "values": [1, 1.5, 2, 2.5, 3, 3.5, 4, 4.5], "format": "~g", "ticks": false, "tickSize": 0, "labelFontSize": 11, "labelFontWeight": "bold", "labelPadding": 4, "title": "pₜ (GeV/c)", "titleAnchor": "end", "titleFontSize": 12, "titleFontWeight": "bold", "titlePadding": 0}},
                "y": {"field": "slo", "type": "quantitative", "scale": {"domain": [-0.0192, 0.2377], "nice": false, "zero": false, "padding": 0}, "axis": null},
                "y2": {"field": "shi"}
              }
            },
            {
              "mark": {"type": "rule", "color": "#444444", "strokeWidth": 1},
              "encoding": {"y": {"datum": 0, "type": "quantitative", "axis": {"orient": "right", "values": [-0.01, 0.01, 0.02, 0.03, 0.04, 0.06, 0.07, 0.08, 0.09, 0.11, 0.12, 0.13, 0.14, 0.16, 0.17, 0.18, 0.19, 0.21, 0.22, 0.23], "labels": false, "ticks": true, "tickSize": -4, "title": null}}}
            },
            {
              "data": {"name": "aul"},
              "transform": [{"filter": "datum.c == 'red'"}],
              "mark": {"type": "line", "color": "#ff7b7b", "strokeWidth": 1.3, "interpolate": "monotone"},
              "encoding": {"x": {"field": "pt", "type": "quantitative", "axis": null}, "y": {"field": "r", "type": "quantitative", "axis": {"orient": "right", "values": [0, 0.05, 0.1, 0.15, 0.2], "labels": false, "ticks": true, "tickSize": -8, "title": null}}}
            },
            {
              "data": {"name": "aul"},
              "transform": [{"filter": "datum.c == 'green'"}],
              "mark": {"type": "line", "color": "#66ee66", "strokeWidth": 1.3, "interpolate": "monotone"},
              "encoding": {"x": {"field": "pt", "type": "quantitative", "axis": null}, "y": {"field": "r", "type": "quantitative", "axis": null}}
            },
            {
              "data": {"name": "aul"},
              "transform": [{"filter": "datum.c == 'blue'"}],
              "mark": {"type": "line", "color": "#1a1aff", "strokeWidth": 2.2, "interpolate": "monotone"},
              "encoding": {"x": {"field": "pt", "type": "quantitative", "axis": null}, "y": {"field": "r", "type": "quantitative", "axis": null}}
            },
            {
              "data": {"name": "au"},
              "mark": {"type": "rule", "color": "#222222", "strokeWidth": 1, "clip": true},
              "encoding": {
                "x": {"field": "pt", "type": "quantitative", "axis": {"orient": "bottom", "values": [1, 1.5, 2, 2.5, 3, 3.5, 4, 4.5], "labels": false, "ticks": true, "tickSize": -8, "title": null}},
                "y": {"field": "elo", "type": "quantitative", "axis": {"orient": "left", "values": [0, 0.05, 0.1, 0.15, 0.2], "labels": false, "ticks": true, "tickSize": -8, "title": null}},
                "y2": {"field": "ehi"}
              }
            },
            {
              "data": {"name": "au"},
              "transform": [{"fold": ["elo", "ehi"], "as": ["k", "e"]}],
              "mark": {"type": "tick", "orient": "horizontal", "size": 5, "thickness": 1, "color": "#222222", "clip": true},
              "encoding": {"x": {"field": "pt", "type": "quantitative", "axis": null}, "y": {"field": "e", "type": "quantitative", "axis": null}}
            },
            {
              "data": {"name": "au"},
              "mark": {"type": "circle", "color": "#000000", "size": 45, "opacity": 1},
              "encoding": {
                "x": {"field": "pt", "type": "quantitative", "axis": {"orient": "bottom", "values": [1.1, 1.2, 1.3, 1.4, 1.6, 1.7, 1.8, 1.9, 2.1, 2.2, 2.3, 2.4, 2.6, 2.7, 2.8, 2.9, 3.1, 3.2, 3.3, 3.4, 3.6, 3.7, 3.8, 3.9, 4.1, 4.2, 4.3, 4.4, 4.6, 4.7], "labels": false, "ticks": true, "tickSize": -4, "title": null}},
                "y": {"field": "r", "type": "quantitative", "axis": {"orient": "left", "values": [-0.01, 0.01, 0.02, 0.03, 0.04, 0.06, 0.07, 0.08, 0.09, 0.11, 0.12, 0.13, 0.14, 0.16, 0.17, 0.18, 0.19, 0.21, 0.22, 0.23], "labels": false, "ticks": true, "tickSize": -4, "title": null}}
              }
            },
            {"mark": {"type": "text", "fontSize": 13.5, "fontWeight": "bold", "text": "(b) Au+Au (Min. Bias)"}, "encoding": {"x": {"datum": 1.2, "type": "quantitative", "axis": null}, "y": {"datum": 0.2126, "type": "quantitative", "axis": null}}}
          ]
        }
      ],
      "spacing": 0,
      "bounds": "flush"
    }
  ]
}
